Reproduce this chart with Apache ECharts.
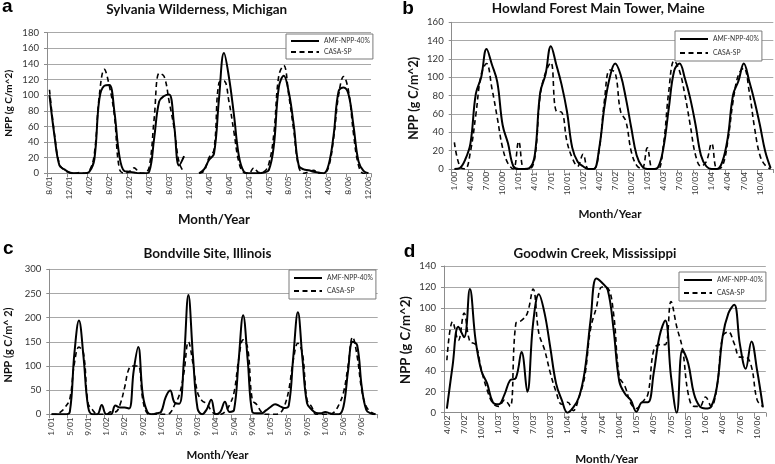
<!DOCTYPE html>
<html><head><meta charset="utf-8">
<script src="https://cdn.jsdelivr.net/npm/echarts@6/dist/echarts.min.js"></script>
<style>html,body{margin:0;padding:0;background:#fff}#c{width:775px;height:464px}</style>
</head><body><div id="c"></div>
<script>
// ---------- DATA ----------
const seriesNames = ['AMF-NPP-40%', 'CASA-SP'];

// a: Sylvania Wilderness, Michigan (8/01 .. 12/06, monthly)
const aSolid = [100,48,10,5,1,0,0,0,2,18, 95,112,113,80,23,3,2,1,0,0, 2,45,92,99,101,62,10,22,null,null, 0,5,17,25,95,154,123,75,22,2, 0,0,0,1,4,35,110,125,104,62, 10,5,4,2,1,0,11,49,105,110, 101,60,15,3,0];
const aDash  = [107,50,12,4,1,0,1,0,3,25, 100,133,112,75,6,0,2,7,1,0, 8,70,128,124,92,58,14,1,null,null, 0,3,20,30,116,118,92,53,14,1, 0,7,1,2,12,50,125,138,100,55, 8,0,2,4,0,0,8,45,100,124, 105,50,10,0,0];

// b: Howland Forest Main Tower, Maine (1/00 .. 12/04)
const bSolid = [0,1,10,28,82,100,131,114,95,48,28,3, 0,0,1,15,83,103,134,114,92,63,23,8, 3,0,0,22,68,100,115,103,77,45,15,3, 0,0,2,23,66,107,115,99,77,48,15,3, 0,0,8,34,81,96,115,96,74,48,19,1];
const bDash  = [29,3,0,19,59,103,115,88,56,23,6,0, 30,0,0,12,80,105,116,63,62,30,12,3, 16,0,0,20,75,108,105,63,52,19,4,0, 23,0,0,26,85,118,107,81,48,15,3,8, 28,0,3,30,74,103,110,85,45,15,4,0];

// c: Bondville Site, Illinois (1/01 .. 12/06)
const cSolid = [0,0,0,0,5,126,194,119,16,0,0,19, 0,0,18,14,14,12,90,139,40,5,0,2, 5,35,49,24,22,110,247,120,12,0,10,30, 0,5,26,5,9,110,205,112,5,2,2,8, 15,21,17,13,18,120,211,115,23,10,3,2, 5,2,0,0,16,90,150,143,57,9,2,0];
const cDash  = [0,0,5,15,32,105,139,126,23,9,0,0, 0,5,5,20,55,95,100,100,30,2,0,0, 0,0,3,20,40,85,150,105,45,28,22,8, 0,0,5,19,45,112,154,137,30,20,5,0, 0,0,2,16,50,112,147,126,30,16,0,0, 0,0,5,20,45,100,160,120,50,16,5,0];

// d: Goodwin Creek, Mississippi (4/02 .. 11/06)
const dSolid = [4,45,82,72,118,69,40,28,10,8, 17,31,33,58,20,85,113,95,62,28, 12,0,5,15,40,88,128,124,117,80, 30,18,12,1,10,10,38,73,88,35, 0,60,47,18,6,4,6,25,73,95, 103,65,42,68,40,5];
const dDash  = [50,87,69,95,68,65,41,22,9,6, 12,6,85,88,95,118,76,60,38,20, 8,10,2,15,35,80,100,120,119,95, 35,25,9,4,10,18,60,65,65,106, 82,61,18,6,6,15,6,25,73,77, 66,53,53,44,12,6];

// month/year category labels
function months(m, y, n) {
  const out = [];
  for (let i = 0; i < n; i++) {
    out.push(m + '/' + String(y).padStart(2, '0'));
    m++; if (m > 12) { m = 1; y++; }
  }
  return out;
}
const aCats = months(8, 1, 65);
const bCats = months(1, 0, 60);
const cCats = months(1, 1, 72);
const dCats = months(4, 2, 56);

const titles = ['Sylvania Wilderness, Michigan', 'Howland Forest Main Tower, Maine', 'Bondville Site, Illinois', 'Goodwin Creek, Mississippi'];
const yTitles = ['NPP (g C/m^2)', 'NPP (g C/m^2)', 'NPP (g C/m^ 2)', 'NPP (g C/m^2)'];
const xTitle = 'Month/Year';
const letters = ['a', 'b', 'c', 'd'];

// ---------- LAYOUT ----------
const FAM = 'Lato, "Liberation Sans", sans-serif';
const mctx = document.createElement('canvas').getContext('2d');
function fit(text, weight, target) {
  mctx.font = weight + ' 100px Lato';
  return 100 * target / mctx.measureText(text).width;
}
const yLabSize = fit('180', 'normal', 16.7);
const xLabSize = fit('12/01', 'normal', 23.3);
const legSize = fit('AMF-NPP-40%', 'normal', 46);

const panels = [
  {grid:{left:47, top:32.7, width:324, height:140.6}, cats:aCats, s:aSolid, d:aDash, max:180, step:20, lab:3,
   legend:{left:286, top:34, gap:3, pad:[3,3,3,4]},
   title:{x:196.7, y:10, w:181}, ytl:{x:9, y:103.3, w:67}, xtl:{x:214, y:219.5, w:72}, let:{x:7.2, y:6.6}},
  {grid:{left:451.7, top:22.3, width:321.6, height:146.7}, cats:bCats, s:bSolid, d:bDash, max:160, step:20, lab:2,
   legend:{left:675, top:31, gap:6, pad:[4,3,4,4]},
   title:{x:598.3, y:8.5, w:213}, ytl:{x:414.4, y:98.3, w:83}, xtl:{x:610, y:214, w:63}, let:{x:408, y:8.3}},
  {grid:{left:49.3, top:269.3, width:328.4, height:145}, cats:cCats, s:cSolid, d:cDash, max:300, step:50, lab:3,
   legend:{left:289, top:270, gap:5, pad:[4,3,4,4]},
   title:{x:207.5, y:254.1, w:128}, ytl:{x:8.8, y:345, w:75}, xtl:{x:217.5, y:455.7, w:62}, let:{x:8.3, y:248.3}},
  {grid:{left:444, top:266, width:321.8, height:146.7}, cats:dCats, s:dSolid, d:dDash, max:140, step:20, lab:2,
   legend:{left:679, top:272, gap:5, pad:[4,3,4,4]},
   title:{x:595, y:254, w:163}, ytl:{x:406, y:340, w:88}, xtl:{x:606.7, y:459, w:63}, let:{x:409.5, y:251.6}}
];

const option = {animation:false, backgroundColor:'#fff', grid:[], xAxis:[], yAxis:[], series:[], legend:[], graphic:[]};
panels.forEach((p, k) => {
  option.grid.push(Object.assign({containLabel:false}, p.grid));
  option.xAxis.push({
    type:'category', gridIndex:k, data:p.cats, boundaryGap:true,
    axisLine:{show:true, lineStyle:{color:'#8c8c8c', width:1}},
    axisTick:{show:true, interval:p.lab, length:4, lineStyle:{color:'#8c8c8c'}},
    axisLabel:{interval:p.lab, rotate:90, margin:3, fontSize:xLabSize, fontFamily:FAM, color:'#333'},
    splitLine:{show:false}
  });
  option.yAxis.push({
    type:'value', gridIndex:k, min:0, max:p.max, interval:p.step,
    axisLine:{show:true, lineStyle:{color:'#8c8c8c', width:1}},
    axisTick:{show:true, length:3, lineStyle:{color:'#8c8c8c'}},
    axisLabel:{margin:8, fontSize:yLabSize, fontFamily:FAM, color:'#333'},
    splitLine:{show:true, lineStyle:{color:'#a8a8a8', width:1}}
  });
  option.series.push({
    name:seriesNames[0], type:'line', xAxisIndex:k, yAxisIndex:k, data:p.s,
    symbol:'none', smooth:0.4, connectNulls:false,
    lineStyle:{color:'#000', width:2, type:'solid'}, itemStyle:{color:'#000'}
  });
  option.series.push({
    name:seriesNames[1], type:'line', xAxisIndex:k, yAxisIndex:k, data:p.d,
    symbol:'none', smooth:0.4, connectNulls:false,
    lineStyle:{color:'#000', width:1.6, type:[5,3.5]}, itemStyle:{color:'#000'}
  });
  option.legend.push({
    left:p.legend.left, top:p.legend.top, orient:'vertical',
    itemWidth:28, itemHeight:10, itemGap:p.legend.gap, padding:p.legend.pad,
    borderColor:'#7a7a7a', borderWidth:1, backgroundColor:'#fff',
    itemStyle:{opacity:0, borderWidth:0},
    textStyle:{fontSize:legSize, fontFamily:FAM, color:'#333'},
    data:seriesNames
  });
  const tFs = fit(titles[k], 'bold', p.title.w);
  const yFs = fit(yTitles[k], 'bold', p.ytl.w);
  const xFs = fit(xTitle, 'bold', p.xtl.w);
  option.graphic.push(
    {type:'text', x:p.let.x, y:p.let.y, style:{text:letters[k], font:'bold 19px "Liberation Sans", Arial, sans-serif', fill:'#000', align:'center', verticalAlign:'middle'}},
    {type:'text', x:p.title.x, y:p.title.y, style:{text:titles[k], font:'bold ' + tFs.toFixed(2) + 'px ' + FAM, fill:'#111', align:'center', verticalAlign:'middle'}},
    {type:'text', x:p.ytl.x, y:p.ytl.y, rotation:Math.PI/2, style:{text:yTitles[k], font:'bold ' + yFs.toFixed(2) + 'px ' + FAM, fill:'#111', align:'center', verticalAlign:'middle'}},
    {type:'text', x:p.xtl.x, y:p.xtl.y, style:{text:xTitle, font:'bold ' + xFs.toFixed(2) + 'px ' + FAM, fill:'#111', align:'center', verticalAlign:'middle'}}
  );
});

const chart = echarts.init(document.getElementById('c'), null, {renderer:'canvas', width:775, height:464});
chart.setOption(option);
</script>
</body></html>
